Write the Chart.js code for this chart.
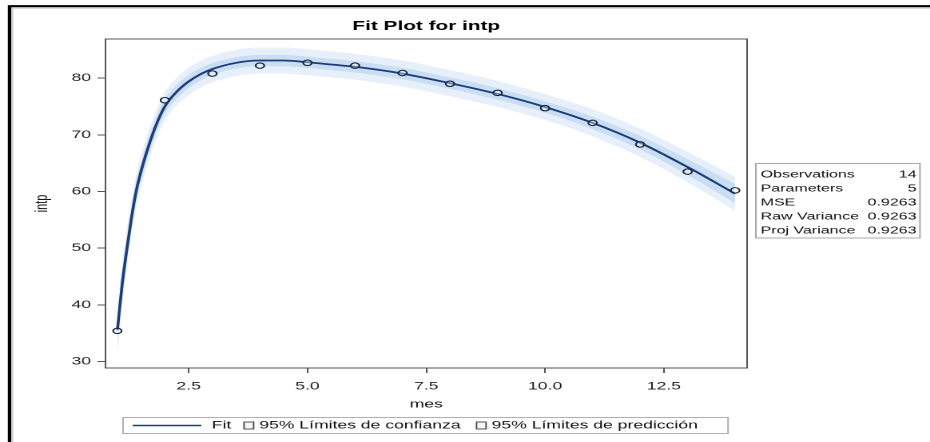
<!DOCTYPE html>
<html>
<head>
<meta charset="utf-8">
<script src="https://cdn.jsdelivr.net/npm/chart.js@4.4.0/dist/chart.umd.min.js"></script>
<style>
  html, body { margin: 0; padding: 0; background: #fff; overflow: hidden; }
  #wrap { width: 582px; height: 442px; transform: scaleX(1.598); transform-origin: 0 0; }
</style>
</head>
<body>
<div id="wrap"><canvas id="c"></canvas></div>
<script>
// ---- data ----
const obsX = [1, 2, 3, 4, 5, 6, 7, 8, 9, 10, 11, 12, 13, 14];
const obsY = [35.4, 76.1, 80.8, 82.2, 82.7, 82.2, 80.9, 79.0, 77.4, 74.7, 72.1, 68.3, 63.5, 60.2];

const fitX = [1, 1.1, 1.2, 1.3, 1.4, 1.5, 1.6, 1.8, 2, 2.25, 2.5, 2.75, 3, 3.5, 4, 4.5, 5, 5.5, 6, 7, 8, 9, 10, 11, 12, 13, 14];
const fitY = [35.5, 43.5, 49.8, 55.5, 60.2, 63.6, 66.5, 71.4, 75.0, 77.6, 79.4, 80.7, 81.6, 82.7, 83.1, 83.1, 82.8, 82.4, 82.0, 80.8, 79.1, 77.2, 74.9, 72.1, 68.6, 64.3, 59.6];
const ciHalf = [2.4, 2.2, 2.0, 1.8, 1.7, 1.6, 1.5, 1.4, 1.3, 1.2, 1.15, 1.1, 1.05, 1.0, 1.0, 1.0, 1.0, 1.0, 1.0, 1.0, 1.0, 1.0, 1.0, 1.1, 1.2, 1.4, 1.7];
const piHalf = [4.4, 4.0, 3.6, 3.3, 3.0, 2.8, 2.7, 2.6, 2.5, 2.45, 2.4, 2.35, 2.3, 2.3, 2.3, 2.3, 2.3, 2.3, 2.3, 2.3, 2.3, 2.3, 2.3, 2.4, 2.5, 2.7, 3.0];

const xTicks = [2.5, 5, 7.5, 10, 12.5];
const xTickLabels = ['2.5', '5.0', '7.5', '10.0', '12.5'];
const yTicks = [30, 40, 50, 60, 70, 80];
const yTickLabels = ['30', '40', '50', '60', '70', '80'];

const statLabels = ['Observations', 'Parameters', 'MSE', 'Raw Variance', 'Proj Variance'];
const statValues = ['14', '5', '0.9263', '0.9263', '0.9263'];

const legendLabels = ['Fit', '95% Límites de confianza', '95% Límites de predicción'];
const titleText = 'Fit Plot for intp';
const xTitle = 'mes';
const yTitle = 'intp';

// ---- styles ----
const FONT = "'Liberation Sans', Arial, sans-serif";
const lineColor = '#1b3d78';
const ciColor = '#c9ddf3';
const piColor = '#e7f0fa';

const pts = (ys) => fitX.map((x, i) => ({ x: x, y: ys[i] }));

const decorations = {
  id: 'decorations',
  afterDatasetsDraw(chart) {
    const { ctx, chartArea: a } = chart;
    ctx.save();
    ctx.strokeStyle = '#555';
    ctx.lineWidth = 1;
    ctx.strokeRect(a.left, a.top, a.right - a.left, a.bottom - a.top);
    ctx.restore();
  },
  afterDraw(chart) {
    const ctx = chart.ctx;
    ctx.save();
    // outer frame (cut off on the right and bottom)
    ctx.strokeStyle = '#000';
    ctx.lineWidth = 2.2;
    ctx.beginPath();
    ctx.moveTo(6, 442); ctx.lineTo(6, 6.2); ctx.lineTo(582, 6.2);
    ctx.stroke();
    ctx.strokeStyle = '#d0d0d0';
    ctx.lineWidth = 1;
    ctx.beginPath();
    ctx.moveTo(7.8, 442); ctx.lineTo(7.8, 8.3); ctx.lineTo(582, 8.3);
    ctx.stroke();

    // statistics table
    const bx = 473, by = 163.5, bw = 102.7, bh = 74.5;
    ctx.strokeStyle = '#a8a8a8';
    ctx.lineWidth = 1;
    ctx.strokeRect(bx, by, bw, bh);
    ctx.fillStyle = '#111';
    ctx.font = '10px ' + FONT;
    ctx.textBaseline = 'middle';
    statLabels.forEach((lab, i) => {
      const y = by + 11 + i * 14.1;
      ctx.textAlign = 'left';
      ctx.fillText(lab, bx + 3, y);
      ctx.textAlign = 'right';
      ctx.fillText(statValues[i], bx + bw - 2.2, y);
    });

    // legend
    const lx = 77, ly = 417.5, lh = 16, lw = 378.6;
    ctx.strokeStyle = '#b0b0b0';
    ctx.strokeRect(lx, ly, lw, lh);
    const cy = ly + lh / 2;
    ctx.font = '11px ' + FONT;
    ctx.textAlign = 'left';
    ctx.textBaseline = 'middle';
    let x = lx + 6;
    ctx.strokeStyle = lineColor;
    ctx.lineWidth = 1.6;
    ctx.beginPath(); ctx.moveTo(x, cy); ctx.lineTo(x + 43, cy); ctx.stroke();
    x += 49.5;
    ctx.fillStyle = '#111';
    ctx.fillText(legendLabels[0], x, cy);
    x += ctx.measureText(legendLabels[0]).width + 8;
    [1, 2].forEach((k) => {
      ctx.fillStyle = '#f3f6fa';
      ctx.fillRect(x, cy - 3.5, 6, 7);
      ctx.strokeStyle = '#444';
      ctx.lineWidth = 0.9;
      ctx.strokeRect(x, cy - 3.5, 6, 7);
      x += 9.5;
      ctx.fillStyle = '#111';
      ctx.fillText(legendLabels[k], x, cy);
      x += ctx.measureText(legendLabels[k]).width + 10;
    });
    ctx.restore();
  }
};

new Chart(document.getElementById('c'), {
  type: 'line',
  data: {
    datasets: [
      { label: 'PI upper', data: pts(fitY.map((v, i) => v + piHalf[i])), borderWidth: 0, pointRadius: 0,
        fill: '+1', backgroundColor: piColor, borderColor: 'rgba(0,0,0,0)', cubicInterpolationMode: 'monotone', order: 4 },
      { label: 'PI lower', data: pts(fitY.map((v, i) => v - piHalf[i])), borderWidth: 0, pointRadius: 0,
        fill: false, borderColor: 'rgba(0,0,0,0)', cubicInterpolationMode: 'monotone', order: 4 },
      { label: 'CI upper', data: pts(fitY.map((v, i) => v + ciHalf[i])), borderWidth: 0, pointRadius: 0,
        fill: '+1', backgroundColor: ciColor, borderColor: 'rgba(0,0,0,0)', cubicInterpolationMode: 'monotone', order: 3 },
      { label: 'CI lower', data: pts(fitY.map((v, i) => v - ciHalf[i])), borderWidth: 0, pointRadius: 0,
        fill: false, borderColor: 'rgba(0,0,0,0)', cubicInterpolationMode: 'monotone', order: 3 },
      { label: 'Fit', data: pts(fitY), borderColor: lineColor, borderWidth: 1.8, pointRadius: 0,
        fill: false, cubicInterpolationMode: 'monotone', order: 2 },
      { label: 'intp', data: obsX.map((x, i) => ({ x: x, y: obsY[i] })), showLine: false,
        pointStyle: 'circle', pointRadius: 2.7, pointBorderWidth: 1.1, pointBorderColor: '#1a2540',
        pointBackgroundColor: 'rgba(255,255,255,0.35)', order: 1 }
    ]
  },
  options: {
    responsive: true,
    maintainAspectRatio: false,
    animation: false,
    devicePixelRatio: 2,
    layout: { padding: { left: 9, right: 114.5, top: 6.4, bottom: 26 } },
    plugins: {
      legend: { display: false },
      tooltip: { enabled: false },
      title: {
        display: true, text: titleText, fullSize: false, color: '#000',
        font: { family: FONT, size: 13, weight: 'bold' },
        padding: { top: 12, bottom: 5 }
      }
    },
    scales: {
      x: {
        type: 'linear', position: 'bottom', min: 0.75, max: 14.25,
        afterBuildTicks: (s) => { s.ticks = xTicks.map(v => ({ value: v })); },
        afterFit: (s) => { s.height = 48; },
        ticks: {
          color: '#222', font: { family: FONT, size: 11 }, padding: 7, maxRotation: 0,
          callback: (v) => xTickLabels[xTicks.indexOf(v)]
        },
        grid: { display: true, drawOnChartArea: false, drawTicks: true, tickLength: 5, color: '#555' },
        border: { display: true, color: '#555', width: 1 },
        title: { display: true, text: xTitle, color: '#111', font: { family: FONT, size: 11 }, padding: { top: 0, bottom: 5 } }
      },
      y: {
        type: 'linear', min: 28.85, max: 86.9,
        afterBuildTicks: (s) => { s.ticks = yTicks.map(v => ({ value: v })); },
        afterFit: (s) => { s.width = 57; },
        ticks: {
          color: '#222', font: { family: FONT, size: 11 }, padding: 4,
          callback: (v) => yTickLabels[yTicks.indexOf(v)]
        },
        grid: { display: true, drawOnChartArea: false, drawTicks: true, tickLength: 5, color: '#555' },
        border: { display: true, color: '#555', width: 1 },
        title: { display: true, text: yTitle, color: '#111', font: { family: FONT, size: 11 }, padding: { top: 10.7, bottom: 0 } }
      }
    }
  },
  plugins: [decorations]
});
</script>
</body>
</html>
